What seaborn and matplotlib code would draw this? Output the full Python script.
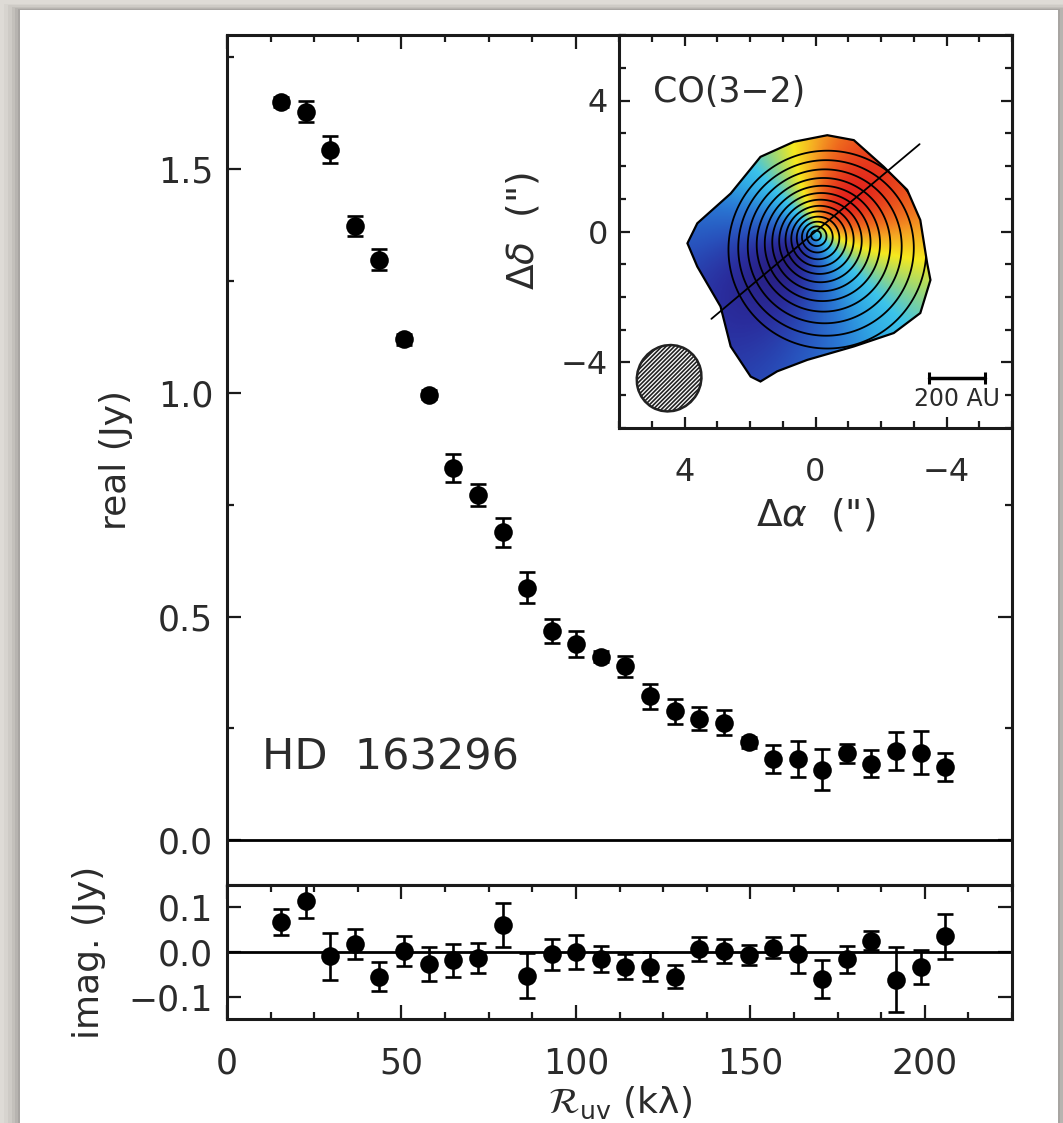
import numpy as np
import pandas as pd
import matplotlib
matplotlib.use("Agg")
import matplotlib.pyplot as plt
import seaborn as sns
from matplotlib.patches import Rectangle, Ellipse, Polygon
from matplotlib.ticker import MultipleLocator, NullLocator
from matplotlib.colors import LinearSegmentedColormap

# ---------------- data ----------------
uv_dist = [15.5, 22.6, 29.6, 36.7, 43.7, 50.8, 57.8, 64.9, 71.9, 79.0, 86.0, 93.1, 100.1, 107.2,
           114.2, 121.3, 128.3, 135.4, 142.4, 149.5, 156.5, 163.6, 170.6, 177.7, 184.7, 191.8, 198.8, 205.9]
real_amp = [1.650, 1.629, 1.544, 1.373, 1.298, 1.120, 0.996, 0.832, 0.772, 0.688, 0.565, 0.467, 0.439, 0.410,
            0.389, 0.322, 0.288, 0.272, 0.263, 0.219, 0.182, 0.181, 0.158, 0.194, 0.171, 0.199, 0.196, 0.164]
real_err = [0.012, 0.024, 0.030, 0.023, 0.023, 0.012, 0.010, 0.032, 0.024, 0.032, 0.034, 0.027, 0.029, 0.012,
            0.024, 0.028, 0.027, 0.025, 0.028, 0.012, 0.032, 0.040, 0.046, 0.022, 0.030, 0.043, 0.048, 0.031]
imag_amp = [0.067, 0.114, -0.010, 0.018, -0.055, 0.002, -0.027, -0.019, -0.013, 0.060, -0.053, -0.005, 0.000, -0.016,
            -0.033, -0.033, -0.055, 0.006, 0.002, -0.007, 0.010, -0.005, -0.061, -0.016, 0.025, -0.062, -0.034, 0.035]
imag_err = [0.030, 0.038, 0.052, 0.033, 0.033, 0.033, 0.038, 0.036, 0.034, 0.049, 0.051, 0.035, 0.039, 0.029,
            0.028, 0.033, 0.026, 0.027, 0.027, 0.022, 0.023, 0.042, 0.042, 0.030, 0.021, 0.073, 0.038, 0.050]

uv_ticks = [0, 50, 100, 150, 200]
uv_tick_labels = ["0", "50", "100", "150", "200"]
real_ticks = [0.0, 0.5, 1.0, 1.5]
real_tick_labels = ["0.0", "0.5", "1.0", "1.5"]
imag_ticks = [-0.1, 0.0, 0.1]
imag_tick_labels = ["\u22120.1", "0.0", "0.1"]
offset_ticks = [-4, 0, 4]
offset_tick_labels = ["\u22124", "0", "4"]

source_name = "HD  163296"
line_name = "CO(3\u22122)"
scale_label = "200 AU"

# inset map (arcsec offsets)
outline_dra = [3.91, 3.61, 2.59, 1.68, 0.66, -0.36, -1.17, -2.08, -2.80, -3.20, -3.41,
               -3.51, -3.20, -2.39, -1.17, 0.25, 1.17, 1.68, 1.98, 2.59, 2.90, 3.61]
outline_ddec = [-0.36, 0.25, 1.16, 2.28, 2.74, 2.94, 2.79, 1.98, 1.27, 0.35, -0.97,
                -1.48, -2.49, -3.10, -3.51, -3.92, -4.27, -4.58, -4.43, -3.51, -2.29, -1.07]
ring_radii = [0.15, 0.30, 0.47, 0.65, 0.84, 1.04, 1.26, 1.50, 1.76, 2.04, 2.35, 2.68, 3.02]
ring_center = (0.0, -0.1)
ring_drift = (-0.12, -0.15)
major_axis_pa = 130.0
velocity_pa = 134.0
inclination = 25.0
core_radius = 0.8
falloff = 1.3
systemic_level, red_span, blue_span = 0.38, 0.52, 0.37
velocity_palette = ["#271c7e", "#2a2e9e", "#2850bb", "#2a78d4", "#30a8e4", "#3cc4ea",
                    "#9fd873", "#f6e91e", "#f5a623", "#ef6a1e", "#e2231c"]
velocity_nodes = [0.0, 0.06, 0.13, 0.22, 0.31, 0.38, 0.5, 0.6, 0.7, 0.78, 0.9]
major_line_half_length = 4.15
beam_center = (4.47, -4.48)
beam_size = (1.95, 2.05)
beam_pa = 30.0
scalebar_start = -3.46
scalebar_length = 1.72
scalebar_dec = -4.48

# ---------------- style ----------------
sns.set_theme(style="ticks")
plt.rcParams["font.family"] = ["DejaVu Sans"]
plt.rcParams["mathtext.fontset"] = "dejavusans"
plt.rcParams["hatch.linewidth"] = 1.2
TXT = "#2b2b2b"
SPW = 2.2

W, H = 1063, 1123
fig = plt.figure(figsize=(W / 100, H / 100), dpi=100)
fig.patch.set_facecolor("#dedbd6")

card_l, card_t, card_r = 20, 10, 1058
for grow, a in [(16, 0.03), (12, 0.04), (8, 0.05), (5, 0.06), (2, 0.08)]:
    fig.add_artist(Rectangle(((card_l - grow) / W, 0), (card_r - card_l + 2 * grow) / W,
                             1 - (card_t - grow * 0.4) / H, transform=fig.transFigure,
                             facecolor="black", edgecolor="none", alpha=a, zorder=-6))
fig.add_artist(Rectangle((card_l / W, 0), (card_r - card_l) / W, 1 - card_t / H,
                         transform=fig.transFigure, facecolor="white", edgecolor="none", zorder=-5))

L, R = 227, 1012
ax_re = fig.add_axes([L / W, 1 - 885 / H, (R - L) / W, (885 - 35) / H])
ax_im = fig.add_axes([L / W, 1 - 1019 / H, (R - L) / W, (1019 - 885) / H], sharex=ax_re)
ax_in = fig.add_axes([619 / W, 1 - 428 / H, (R - 619) / W, (428 - 35) / H])
ax_in.set_zorder(5)

df_re = pd.DataFrame({"uv": uv_dist, "amp": real_amp, "err": real_err})
df_im = pd.DataFrame({"uv": uv_dist, "amp": imag_amp, "err": imag_err})

for ax, df in [(ax_re, df_re), (ax_im, df_im)]:
    ax.errorbar(df["uv"], df["amp"], yerr=df["err"], fmt="none", ecolor="black",
                elinewidth=1.9, capsize=5.5, capthick=1.9, zorder=2)
    sns.scatterplot(data=df, x="uv", y="amp", ax=ax, color="black", s=180,
                    linewidth=0, marker="o", zorder=3, legend=False)
    ax.axhline(0, color="black", lw=2.0, zorder=1)
    for sp in ax.spines.values():
        sp.set_linewidth(SPW)
        sp.set_color("#1a1a1a")

ax_re.set_xlim(0, 225)
ax_re.set_ylim(-0.1, 1.8)
ax_im.set_ylim(-0.15, 0.15)
ax_re.set_xticks(uv_ticks)
ax_im.set_xticklabels(uv_tick_labels)
ax_re.xaxis.set_minor_locator(MultipleLocator(12.5))
ax_re.set_yticks(real_ticks)
ax_re.set_yticklabels(real_tick_labels)
ax_re.yaxis.set_minor_locator(MultipleLocator(0.25))
ax_im.set_yticks(imag_ticks)
ax_im.set_yticklabels(imag_tick_labels)
ax_im.yaxis.set_minor_locator(NullLocator())

for ax in (ax_re, ax_im):
    ax.tick_params(which="both", direction="in", top=True, right=True, width=1.6,
                   color="#1a1a1a", labelcolor=TXT, labelsize=25)
    ax.tick_params(which="major", length=10)
    ax.tick_params(which="minor", length=5)
    ax.tick_params(axis="y", pad=10)
    ax.tick_params(axis="x", pad=20)
ax_re.tick_params(axis="x", which="both", bottom=False, labelbottom=False)

ax_re.set_xlabel("")
ax_re.set_ylabel("real (Jy)", fontsize=26, color=TXT, labelpad=18)
ax_im.set_ylabel("imag. (Jy)", fontsize=26, color=TXT, labelpad=16)
ax_im.set_xlabel(r"$\mathcal{R}_{\rm uv}$ (kλ)", fontsize=26, color=TXT, labelpad=3)

ax_re.text(10.0, 0.185, source_name, fontsize=31, color=TXT, ha="left", va="center")

# ---------------- inset map ----------------
vel_cmap = LinearSegmentedColormap.from_list("vel", list(zip(
    [v / velocity_nodes[-1] for v in velocity_nodes], velocity_palette)))

n = 480
ra = np.linspace(6, -6, n)
dec = np.linspace(6, -6, n)
RA, DEC = np.meshgrid(ra, dec)
vpa = np.deg2rad(velocity_pa)
vx, vy = -np.sin(vpa), -np.cos(vpa)
a_maj = RA * vx + DEC * vy
b_min = RA * vy - DEC * vx
rr = np.hypot(a_maj, b_min / np.cos(np.deg2rad(inclination)))
vel = a_maj * (rr ** 2 + core_radius ** 2) ** (-falloff / 2)
vel = vel / np.abs(vel).max()
colour = np.where(vel >= 0, systemic_level + red_span * vel, systemic_level + blue_span * vel)
colour = np.clip(colour, 0.0, velocity_nodes[-1])

im = ax_in.imshow(colour, cmap=vel_cmap, vmin=0, vmax=velocity_nodes[-1], extent=(6, -6, -6, 6),
                  origin="upper", interpolation="bilinear", aspect="auto", zorder=1)
outline = Polygon(np.column_stack([outline_dra, outline_ddec]), closed=True, facecolor="none",
                  edgecolor="black", lw=1.6, zorder=4)
ax_in.add_patch(outline)
im.set_clip_path(outline)

dx = RA - ring_center[0]
dy = DEC - ring_center[1]
sx, sy = ring_drift
ds = dx * sx + dy * sy
s2 = sx ** 2 + sy ** 2
ring_field = (-ds + np.sqrt(ds ** 2 + (1 - s2) * (dx ** 2 + dy ** 2))) / (1 - s2)
cs = ax_in.contour(RA, DEC, ring_field, levels=ring_radii, colors="black", linewidths=1.3, zorder=3)
cs.set_clip_path(outline)

pa = np.deg2rad(major_axis_pa)
ux, uy = -np.sin(pa), -np.cos(pa)
Lh = major_line_half_length
ax_in.plot([Lh * ux, -Lh * ux], [Lh * uy, -Lh * uy], color="black", lw=1.3, zorder=5)

ax_in.add_patch(Ellipse(beam_center, beam_size[0], beam_size[1], angle=beam_pa, facecolor="white",
                        edgecolor="#222222", hatch="////////", lw=1.8, zorder=5))
ax_in.plot([scalebar_start, scalebar_start - scalebar_length], [scalebar_dec, scalebar_dec],
           color="black", lw=2.5, marker="|", ms=8, mew=2.2, zorder=5)
ax_in.text(scalebar_start - scalebar_length / 2, scalebar_dec - 0.62, scale_label, fontsize=17,
           color=TXT, ha="center", va="center")
ax_in.text(4.97, 4.25, line_name, fontsize=25, color=TXT, ha="left", va="center")

ax_in.set_xlim(6, -6)
ax_in.set_ylim(-6, 6)
ax_in.set_xticks(offset_ticks)
ax_in.set_xticklabels(offset_tick_labels)
ax_in.set_yticks(offset_ticks)
ax_in.set_yticklabels(offset_tick_labels)
ax_in.xaxis.set_minor_locator(MultipleLocator(1))
ax_in.yaxis.set_minor_locator(MultipleLocator(1))
ax_in.tick_params(which="both", direction="in", top=True, right=True, width=1.6,
                  color="#1a1a1a", labelcolor=TXT, labelsize=23)
ax_in.tick_params(which="major", length=8)
ax_in.tick_params(which="minor", length=5)
ax_in.tick_params(axis="x", pad=21)
ax_in.tick_params(axis="y", pad=8)
ax_in.set_xlabel(r'$\Delta\alpha$  (")', fontsize=27, color=TXT, labelpad=6)
ax_in.set_ylabel(r'$\Delta\delta$  (")', fontsize=27, color=TXT, labelpad=14)
ax_in.set_facecolor("white")
for sp in ax_in.spines.values():
    sp.set_linewidth(SPW)
    sp.set_color("#1a1a1a")

fig.savefig("out.png", dpi=100, facecolor=fig.get_facecolor())
